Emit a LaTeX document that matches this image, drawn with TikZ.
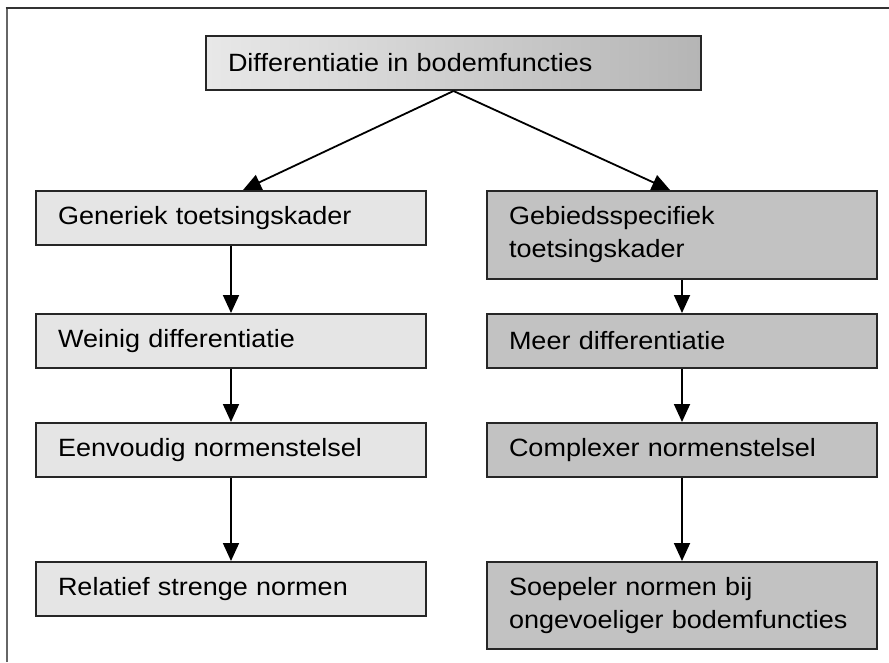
\documentclass[tikz,border=0pt]{standalone}
\usepackage{fontspec}
\setmainfont[FakeStretch=1.08]{Liberation Sans}
\usetikzlibrary{backgrounds}
\usetikzlibrary{arrows.meta,positioning}

\begin{document}
\begin{tikzpicture}[
    x=1pt, y=1pt,
    show background rectangle,
    tight background=0,
    background rectangle/.style={fill=white},
    box/.style={draw=black!85, line width=2pt, anchor=north west,
        minimum width=390pt, minimum height=54pt, text width=346pt,
        inner xsep=22pt, inner ysep=6pt, align=left,
        font=\fontsize{25}{33}\selectfont},
    lbox/.style={box, fill=black!10},
    rbox/.style={box, fill=black!24},
    arr/.style={line width=1.8pt, -{Triangle[length=18pt,width=16pt]}},
 ]
    \useasboundingbox (0,0) rectangle (889,-662);
    \draw[line width=2pt, black!60] (6.5,-662) -- (6.5,-7);
    \draw[line width=2pt, black!80] (5.5,-7.5) -- (889,-7.5);

    \node[box, left color=black!9, right color=black!29,
        minimum width=495pt, text width=451pt] (T0) at (205,-35)
        {Differentiatie in bodemfuncties};

    \node[lbox] (L1) at (35,-190) {Generiek toetsingskader};
    \node[lbox] (L2) at (35,-313) {Weinig differentiatie};
    \node[lbox] (L3) at (35,-422) {Eenvoudig normenstelsel};
    \node[lbox] (L4) at (35,-561) {Relatief strenge normen};

    \node[rbox, minimum height=88pt, right=59pt of L1.north east,
        anchor=north west] (R1) {Gebiedsspecifiek\\toetsingskader};
    \node[rbox, right=59pt of L2.north east, anchor=north west] (R2)
        {Meer differentiatie};
    \node[rbox, right=59pt of L3.north east, anchor=north west] (R3)
        {Complexer normenstelsel};
    \node[rbox, minimum height=87pt, right=59pt of L4.north east,
        anchor=north west] (R4) {Soepeler normen bij\\ongevoeliger bodemfuncties};

    \draw[arr] (T0.south) -- ([xshift=12pt]L1.north);
    \draw[arr] (T0.south) -- ([xshift=-12pt]R1.north);
    \foreach \a/\b in {L1/L2,L2/L3,L3/L4,R1/R2,R2/R3,R3/R4}
        \draw[arr] (\a.south) -- (\b.north);
\end{tikzpicture}
\end{document}
